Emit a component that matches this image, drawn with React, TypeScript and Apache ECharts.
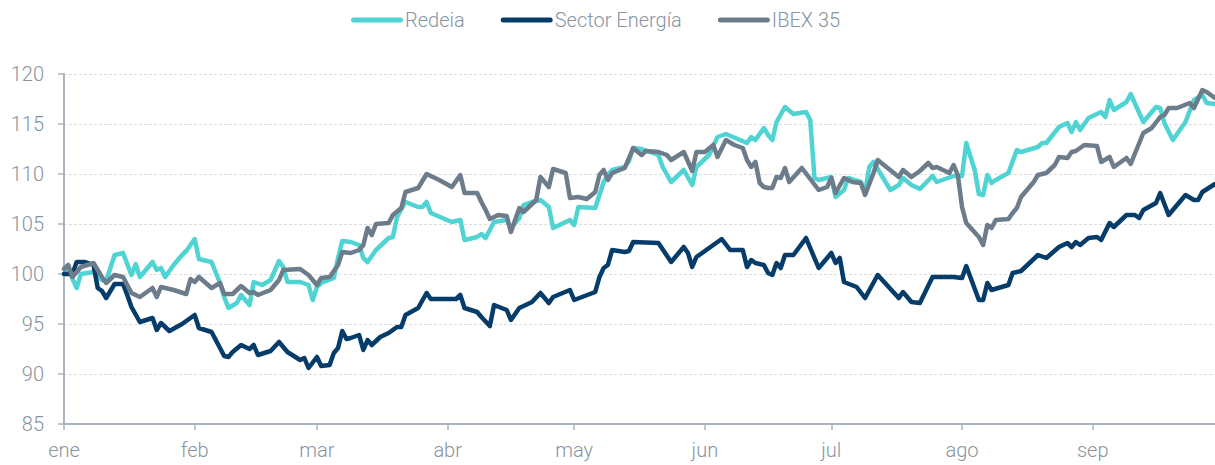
import React, { useEffect, useRef } from "react";
import * as echarts from "echarts";

// Day index from 1 Jan 2024 (0) to 30 Sep 2024 (273)
const dayCount = 274;
const monthStarts = [0, 31, 60, 91, 121, 152, 182, 213, 244];
const monthLabels = ["ene", "feb", "mar", "abr", "may", "jun", "jul", "ago", "sep"];
const yTicks = { min: 85, max: 120, step: 5 };

const seriesNames = ["Redeia", "Sector Energía", "IBEX 35"];
const seriesColors = ["#4fd3d3", "#053c69", "#6c7c8b"];

const redeia: [number, number][] = [
  [0, 100], [1, 100.5], [3, 98.6], [4, 100], [7, 100.2], [9, 99.4], [10, 99.3], [12, 101.9], [14, 102.1], [16, 99.9],
  [17, 101], [18, 99.7], [21, 101.2], [22, 100.4], [23, 100.6], [24, 99.7], [26, 100.9], [28, 101.9], [29, 102.3], [31, 103.5],
  [32, 101.5], [35, 101.2], [37, 99.1], [38, 97.7], [39, 96.6], [41, 97.1], [42, 97.9], [43, 97.4], [44, 96.9], [45, 99.2],
  [47, 98.9], [49, 99.4], [51, 101.3], [52, 100.7], [53, 99.2], [56, 99.2], [58, 98.9], [59, 97.4], [60, 98.7], [61, 99.1],
  [64, 99.6], [65, 101.6], [66, 103.3], [68, 103.2], [70, 102.9], [71, 101.6], [72, 101.2], [74, 102.4], [77, 103.6], [78, 103.7],
  [79, 105.7], [81, 107.2], [84, 106.7], [85, 106.7], [86, 107.2], [87, 106.1], [92, 105.2], [94, 105.4], [95, 103.4], [98, 103.7],
  [99, 104.0], [100, 103.6], [102, 105.2], [105, 105.4], [106, 104.6], [108, 105.6], [109, 106.9], [111, 107.2], [113, 107.4], [115, 106.7],
  [116, 104.6], [120, 105.4], [121, 104.9], [122, 106.7], [126, 106.6], [128, 109.2], [129, 109.9], [130, 110.4], [133, 110.7], [134, 111.3],
  [135, 112.6], [137, 112.5], [141, 111.9], [142, 110.7], [144, 109.2], [147, 110.4], [149, 108.9], [150, 110.7], [153, 111.9], [155, 113.7],
  [157, 114], [162, 113.1], [163, 113.7], [164, 113.4], [166, 114.6], [167, 113.9], [168, 113.4], [169, 115.2], [171, 116.7], [173, 116],
  [176, 116.2], [177, 115.4], [178, 109.6], [179, 109.4], [182, 109.7], [183, 107.7], [185, 108.4], [186, 109.6], [189, 109.2], [190, 108.2],
  [191, 110.7], [192, 111.2], [196, 108.4], [198, 108.9], [199, 109.6], [201, 108.9], [203, 108.5], [206, 109.8], [207, 109.2], [211, 109.8],
  [213, 109.8], [214, 113.1], [216, 110.4], [217, 108], [218, 107.9], [219, 109.9], [220, 109.1], [221, 109.4], [224, 110.1], [226, 112.4],
  [227, 112.2], [231, 112.7], [232, 113.1], [233, 113.1], [236, 114.7], [238, 115.1], [239, 114.2], [240, 115.2], [241, 114.4], [243, 115.6],
  [246, 116.2], [247, 115.7], [248, 117.4], [249, 116.4], [252, 117.2], [253, 118], [256, 115.2], [259, 116.7], [260, 116.6], [261, 115.1],
  [263, 113.4], [266, 115.2], [268, 117.4], [270, 117.9], [271, 117.1], [273, 117.0],
];

const sectorEnergia: [number, number][] = [
  [0, 100], [2, 100], [3, 101.2], [5, 101.2], [7, 100.9], [8, 98.6], [9, 98.3], [10, 97.6], [12, 99], [14, 99],
  [15, 97.9], [16, 96.7], [18, 95.2], [21, 95.6], [22, 94.4], [23, 95.1], [25, 94.3], [28, 95], [31, 95.9], [32, 94.6],
  [35, 94.2], [37, 92.6], [38, 91.8], [39, 91.7], [40, 92.2], [42, 92.9], [44, 92.5], [45, 92.9], [46, 91.9], [49, 92.3],
  [51, 93.2], [53, 92.2], [56, 91.4], [57, 91.6], [58, 90.6], [60, 91.7], [61, 90.8], [63, 90.9], [64, 92.1], [65, 92.6],
  [66, 94.3], [67, 93.5], [68, 93.6], [70, 93.9], [71, 92.4], [72, 93.4], [73, 92.9], [75, 93.7], [77, 94.1], [79, 94.7],
  [80, 94.7], [81, 95.9], [84, 96.6], [86, 98.1], [87, 97.5], [93, 97.5], [94, 97.9], [95, 96.6], [98, 96.2], [99, 95.7],
  [101, 94.8], [102, 96.9], [105, 96.4], [106, 95.4], [108, 96.6], [111, 97.2], [113, 98.1], [115, 97.1], [116, 97.7], [120, 98.4],
  [121, 97.4], [126, 98.2], [127, 99.7], [128, 100.6], [129, 100.9], [130, 102.4], [133, 102.2], [134, 102.3], [135, 103.2], [141, 103.1],
  [144, 101.2], [147, 102.7], [148, 102.1], [149, 100.7], [150, 101.7], [154, 102.9], [156, 103.5], [158, 102.4], [161, 102.4], [162, 100.7],
  [163, 101.4], [164, 101.1], [166, 100.9], [167, 100.1], [168, 99.9], [169, 101.1], [170, 100.6], [171, 101.9], [173, 101.9], [176, 103.6],
  [179, 100.6], [182, 102.1], [183, 101.1], [184, 101.6], [185, 99.2], [188, 98.7], [190, 97.6], [193, 99.9], [198, 97.6], [199, 98.2],
  [201, 97.2], [203, 97.1], [206, 99.7], [211, 99.7], [213, 99.6], [214, 100.8], [217, 97.4], [218, 97.4], [219, 99.1], [220, 98.4],
  [224, 98.9], [225, 100.1], [227, 100.3], [231, 101.9], [233, 101.6], [236, 102.7], [238, 103.1], [239, 102.7], [240, 103.2], [241, 102.9],
  [243, 103.6], [245, 103.7], [246, 103.4], [248, 105.1], [249, 104.7], [252, 105.9], [254, 105.9], [255, 105.6], [256, 106.4], [259, 107.1],
  [260, 108.1], [262, 105.9], [264, 106.9], [266, 107.9], [268, 107.4], [269, 107.4], [270, 108.2], [273, 109],
];

const ibex35: [number, number][] = [
  [0, 100.5], [1, 100.9], [2, 99.7], [4, 100.7], [7, 101.1], [9, 99.7], [10, 99.1], [12, 99.9], [14, 99.7], [16, 98.1],
  [18, 97.7], [21, 98.6], [22, 97.7], [23, 98.7], [26, 98.4], [29, 98], [30, 99.5], [31, 99.2], [32, 99.7], [35, 98.6],
  [37, 99.1], [38, 98], [40, 98], [42, 98.8], [44, 98.1], [45, 98.2], [46, 97.9], [49, 98.4], [51, 99.4], [52, 100.4],
  [56, 100.5], [58, 99.9], [60, 98.9], [61, 99.6], [63, 99.7], [65, 100.9], [66, 102.2], [68, 102.1], [70, 102.4], [71, 102.9],
  [72, 104.6], [73, 103.9], [74, 105], [77, 105.1], [78, 105.9], [80, 106.6], [81, 108.2], [84, 108.6], [86, 110], [89, 109.4],
  [92, 108.7], [94, 109.9], [95, 108.1], [98, 108.1], [99, 107.2], [100, 106.4], [101, 105.5], [103, 105.9], [105, 105.8], [106, 104.2],
  [107, 105.4], [108, 106.6], [109, 106.2], [112, 107.4], [113, 109.7], [115, 108.7], [116, 110.5], [119, 110.1], [120, 107.6], [122, 107.7],
  [124, 107.5], [126, 108.2], [127, 109.9], [128, 110.4], [129, 109.4], [130, 110.1], [133, 110.6], [135, 112.6], [137, 111.9], [138, 112.3],
  [141, 112.2], [143, 111.9], [144, 111.4], [147, 112.2], [149, 110.3], [150, 112.2], [152, 112.2], [154, 112.9], [155, 111.7], [157, 113.4],
  [159, 112.9], [161, 112.6], [162, 111.4], [163, 110.7], [164, 111.2], [165, 109.1], [166, 108.7], [167, 108.6], [168, 108.6], [169, 109.7],
  [170, 109.6], [171, 110.6], [172, 109.2], [175, 110.6], [179, 108.4], [181, 108.7], [182, 109.6], [183, 108.1], [185, 109.6], [187, 109.2],
  [189, 109.1], [190, 107.9], [192, 110.1], [193, 111.4], [198, 109.7], [199, 110.4], [201, 109.7], [203, 110.3], [205, 111.1], [206, 110.6],
  [207, 110.7], [210, 110.1], [211, 110.9], [212, 109.9], [213, 106.7], [214, 105.1], [217, 103.7], [218, 102.9], [219, 104.9], [220, 104.6],
  [221, 105.4], [224, 105.5], [225, 106.1], [226, 106.6], [227, 107.7], [230, 109.2], [231, 109.9], [233, 110.1], [235, 110.9], [236, 111.7],
  [238, 111.6], [239, 112.2], [240, 112.3], [242, 112.9], [245, 112.8], [246, 111.2], [248, 111.7], [249, 110.7], [252, 111.6], [253, 111],
  [256, 114.1], [258, 114.6], [260, 115.7], [261, 115.9], [262, 116.6], [264, 116.6], [267, 117.1], [268, 116.6], [270, 118.4], [271, 118.2],
  [273, 117.6],
];

const seriesData = [redeia, sectorEnergia, ibex35];

const axisColor = "#a9b4be";
const textColor = "#8794a1";
const fontFamily = "Roboto, 'Noto Sans', sans-serif";

export default function App() {
  const ref = useRef<HTMLDivElement>(null);

  useEffect(() => {
    if (!ref.current) return;
    const chart = echarts.init(ref.current, undefined, { renderer: "svg" });
    const categories = Array.from({ length: dayCount }, (_, i) => String(i));
    const isMonthStart = (index: number) => monthStarts.indexOf(index) >= 0;

    chart.setOption({
      animation: false,
      backgroundColor: "#ffffff",
      textStyle: { fontFamily },
      legend: {
        top: 5,
        left: 346,
        itemWidth: 52,
        itemHeight: 5,
        itemGap: 36,
        icon: "path://M2.5,0 L49.5,0 A2.5,2.5 0 0 1 49.5,5 L2.5,5 A2.5,2.5 0 0 1 2.5,0 Z",
        textStyle: { color: textColor, fontSize: 20, fontFamily, fontWeight: 300, padding: [0, 0, 0, -3] },
        data: seriesNames,
      },
      grid: { left: 64, right: 0, top: 74, bottom: 41, containLabel: false },
      xAxis: {
        type: "category",
        boundaryGap: false,
        data: categories,
        axisLine: { show: true, lineStyle: { color: axisColor, width: 2 } },
        axisTick: {
          show: true,
          length: 6,
          interval: (index: number) => isMonthStart(index),
          lineStyle: { color: axisColor, width: 1.5 },
        },
        axisLabel: {
          interval: (index: number) => isMonthStart(index),
          formatter: (value: string) => {
            const i = monthStarts.indexOf(Number(value));
            return i >= 0 ? monthLabels[i] : "";
          },
          color: textColor,
          fontSize: 20,
          fontWeight: 300,
          fontFamily,
          margin: 16,
        },
        splitLine: { show: false },
      },
      yAxis: {
        type: "value",
        min: yTicks.min,
        max: yTicks.max,
        interval: yTicks.step,
        axisLine: { show: true, lineStyle: { color: axisColor, width: 2 } },
        axisTick: { show: true, length: 6, lineStyle: { color: axisColor, width: 1.5 } },
        axisLabel: { color: textColor, fontSize: 20, fontWeight: 300, fontFamily, margin: 20 },
        splitLine: { show: true, lineStyle: { color: "#dcdcdc", width: 1, type: [3, 2] } },
      },
      series: seriesNames.map((name, i) => ({
        name,
        type: "line",
        data: seriesData[i],
        showSymbol: false,
        symbol: "none",
        color: seriesColors[i],
        lineStyle: { color: seriesColors[i], width: 4.5, join: "round", cap: "round" },
        z: 2 + i,
      })),
    });

    return () => chart.dispose();
  }, []);

  return (
    <div
      ref={ref}
      style={{ position: "absolute", left: 0, top: 0, width: 1215, height: 465 }}
    />
  );
}
